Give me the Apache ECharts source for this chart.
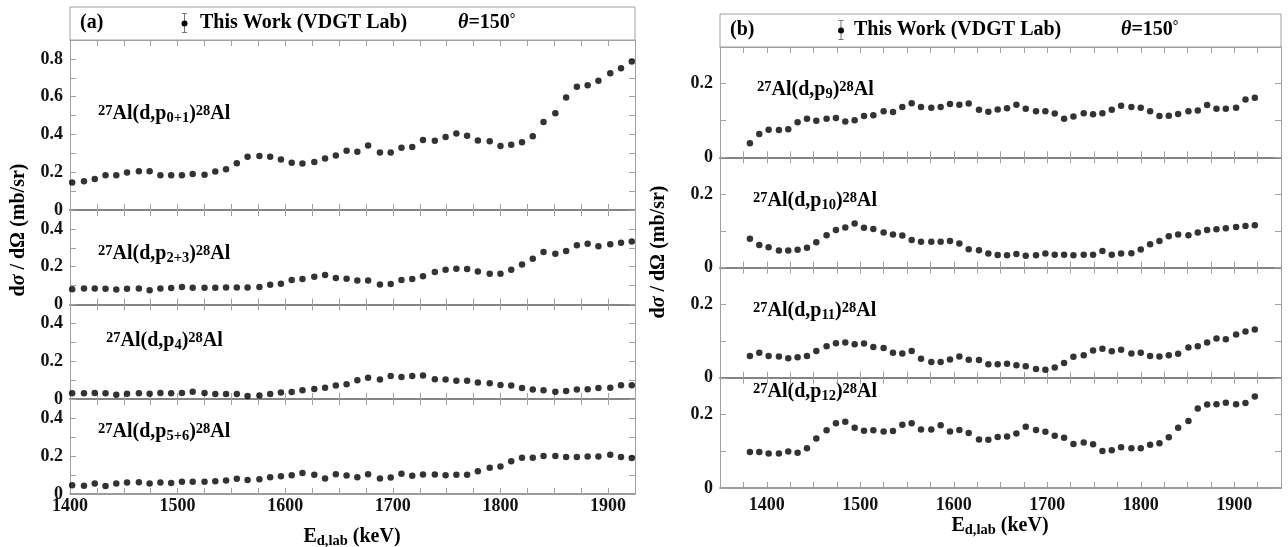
<!DOCTYPE html>
<html><head><meta charset="utf-8">
<script src="https://cdn.jsdelivr.net/npm/echarts@6/dist/echarts.min.js"></script>
<style>html,body{margin:0;padding:0;background:#fff}#c{width:1288px;height:547px}</style>
</head><body><div id="c"></div>
<script>
// ---- data ----
const energiesLeft = [1402,1413,1423,1433,1443,1453,1464,1474,1484,1494,1504,1514,1525,1535,1545,1555,1565,1576,1586,1596,1606,1616,1627,1637,1647,1657,1667,1677,1688,1698,1708,1718,1728,1739,1749,1759,1769,1779,1790,1800,1810,1820,1830,1840,1851,1861,1871,1881,1891,1902,1912,1922];
const energiesRight = [1382,1392,1402,1413,1423,1433,1443,1453,1464,1474,1484,1494,1504,1514,1525,1535,1545,1555,1565,1576,1586,1596,1606,1616,1627,1637,1647,1657,1667,1677,1688,1698,1708,1718,1728,1739,1749,1759,1769,1779,1790,1800,1810,1820,1830,1840,1851,1861,1871,1881,1891,1902,1912,1922];

const p0p1 = [0.145,0.152,0.164,0.184,0.184,0.198,0.205,0.205,0.184,0.184,0.184,0.191,0.186,0.204,0.216,0.248,0.282,0.286,0.282,0.268,0.250,0.246,0.254,0.273,0.289,0.314,0.309,0.341,0.304,0.304,0.330,0.334,0.371,0.366,0.387,0.405,0.393,0.368,0.364,0.339,0.345,0.359,0.391,0.466,0.512,0.595,0.652,0.660,0.684,0.724,0.751,0.786];
const p2p3 = [0.081,0.085,0.085,0.083,0.080,0.083,0.085,0.076,0.085,0.087,0.092,0.088,0.088,0.088,0.090,0.090,0.090,0.092,0.104,0.110,0.129,0.135,0.147,0.156,0.140,0.136,0.127,0.127,0.106,0.108,0.129,0.135,0.149,0.172,0.184,0.189,0.188,0.175,0.163,0.163,0.184,0.212,0.242,0.278,0.269,0.283,0.313,0.322,0.308,0.319,0.327,0.333];
const p4 = [0.030,0.030,0.032,0.030,0.023,0.028,0.030,0.028,0.032,0.030,0.032,0.039,0.032,0.027,0.027,0.027,0.016,0.019,0.027,0.034,0.037,0.046,0.053,0.060,0.071,0.078,0.099,0.112,0.103,0.122,0.117,0.122,0.124,0.104,0.103,0.096,0.096,0.087,0.083,0.074,0.071,0.058,0.050,0.046,0.039,0.042,0.050,0.051,0.058,0.060,0.073,0.073];
const p5p6 = [0.046,0.044,0.055,0.042,0.055,0.060,0.062,0.055,0.060,0.058,0.064,0.065,0.064,0.067,0.071,0.080,0.074,0.078,0.088,0.094,0.099,0.110,0.101,0.081,0.104,0.097,0.088,0.104,0.081,0.087,0.106,0.096,0.103,0.103,0.099,0.101,0.101,0.120,0.138,0.145,0.172,0.191,0.191,0.200,0.200,0.195,0.195,0.198,0.198,0.207,0.195,0.189];
const p9 = [0.038,0.063,0.075,0.074,0.076,0.095,0.105,0.099,0.105,0.107,0.097,0.101,0.112,0.114,0.125,0.123,0.137,0.147,0.137,0.135,0.137,0.145,0.143,0.146,0.129,0.124,0.130,0.133,0.143,0.132,0.125,0.125,0.119,0.105,0.111,0.120,0.117,0.120,0.129,0.140,0.137,0.135,0.125,0.112,0.113,0.118,0.125,0.127,0.142,0.132,0.132,0.135,0.157,0.162];
const p10 = [0.078,0.061,0.055,0.046,0.046,0.048,0.054,0.069,0.088,0.102,0.109,0.120,0.108,0.105,0.095,0.090,0.087,0.075,0.070,0.070,0.070,0.072,0.065,0.050,0.047,0.038,0.034,0.033,0.037,0.032,0.033,0.038,0.035,0.035,0.033,0.035,0.035,0.045,0.035,0.038,0.039,0.049,0.063,0.072,0.085,0.090,0.088,0.095,0.102,0.104,0.107,0.110,0.113,0.115];
const p11 = [0.059,0.068,0.059,0.058,0.053,0.056,0.059,0.073,0.086,0.094,0.096,0.091,0.093,0.084,0.081,0.068,0.066,0.073,0.052,0.043,0.043,0.050,0.058,0.049,0.048,0.037,0.037,0.038,0.034,0.031,0.024,0.022,0.028,0.040,0.057,0.061,0.074,0.079,0.072,0.076,0.066,0.068,0.059,0.058,0.061,0.065,0.082,0.086,0.096,0.107,0.105,0.118,0.126,0.131];
const p12 = [0.098,0.098,0.094,0.094,0.099,0.096,0.108,0.135,0.157,0.176,0.180,0.164,0.156,0.157,0.154,0.155,0.172,0.176,0.159,0.159,0.171,0.154,0.158,0.150,0.132,0.131,0.139,0.140,0.148,0.167,0.158,0.153,0.142,0.137,0.120,0.124,0.119,0.101,0.103,0.111,0.108,0.108,0.118,0.122,0.138,0.164,0.182,0.216,0.227,0.228,0.232,0.228,0.231,0.249];

const xTickLabels = [1400,1500,1600,1700,1800,1900];
const yTickLabels = [0,0.2,0.4,0.6,0.8];
const panelLabels = ['0+1','2+3','4','5+6','9','10','11','12'];

// ---- layout / style ----
const FONT = '"Liberation Serif","DejaVu Serif",serif';
const FRAME = '#a0a0a0';
const ZERO = '#7c7c7c';
const L = {left:70, width:565, xmin:1400, xmax:1925};
const R = {left:720, width:561, xmin:1350, xmax:1950};

const panels = [
  {s:L, top:40,    h:170,   ymax:0.9, E:energiesLeft,  v:p0p1, lx:98,  ly:104, bottom:false},
  {s:L, top:210,   h:94.5,  ymax:0.5, E:energiesLeft,  v:p2p3, lx:98,  ly:244, bottom:false},
  {s:L, top:304.5, h:94.5,  ymax:0.5, E:energiesLeft,  v:p4,   lx:106, ly:331, bottom:false},
  {s:L, top:399,   h:95,    ymax:0.5, E:energiesLeft,  v:p5p6, lx:98,  ly:422, bottom:true, lm:3},
  {s:R, top:47,    h:110.25,ymax:0.3, E:energiesRight, v:p9,   lx:757, ly:80,  bottom:false},
  {s:R, top:157.25,h:110.25,ymax:0.3, E:energiesRight, v:p10,  lx:753, ly:191, bottom:false},
  {s:R, top:267.5, h:110.25,ymax:0.3, E:energiesRight, v:p11,  lx:753, ly:301, bottom:false},
  {s:R, top:377.75,h:110.25,ymax:0.3, E:energiesRight, v:p12,  lx:753, ly:382, bottom:true, lm:8}
];

const grid=[], xAxis=[], yAxis=[], series=[];
const tickStyle = {show:true, inside:true, length:6, lineStyle:{color:FRAME, width:1}};
const labelFont = {fontFamily:FONT, fontWeight:'bold', fontSize:18, color:'#111'};
function yFmt(v){
  const t = yTickLabels.find(t => Math.abs(t - v) < 1e-6);
  if (t === undefined) return '';
  return t === 0 ? '0' : t.toFixed(1);
}
panels.forEach((p,i)=>{
  grid.push({left:p.s.left, width:p.s.width, top:p.top, height:p.h, show:false});
  xAxis.push({type:'value', gridIndex:i, position:'bottom', min:p.s.xmin, max:p.s.xmax, interval:25,
    axisLine:{show:true, onZero:false, lineStyle:{color:ZERO, width:1.6}},
    axisTick:tickStyle, splitLine:{show:false},
    axisLabel:{show:p.bottom, interval:0, margin:p.lm||3, ...labelFont,
      formatter:v => xTickLabels.includes(v) ? String(v) : ''}});
  xAxis.push({type:'value', gridIndex:i, position:'top', min:p.s.xmin, max:p.s.xmax, interval:25,
    axisLine:{show:true, onZero:false, lineStyle:{color:i===0||i===4?FRAME:ZERO, width:i===0||i===4?1:1.6}},
    axisTick:tickStyle, splitLine:{show:false}, axisLabel:{show:false}});
  yAxis.push({type:'value', gridIndex:i, position:'left', min:0, max:p.ymax, interval:0.1,
    axisLine:{show:true, onZero:false, lineStyle:{color:FRAME, width:1}},
    axisTick:tickStyle, splitLine:{show:false},
    axisLabel:{show:true, interval:0, margin:7, ...labelFont, formatter:yFmt}});
  yAxis.push({type:'value', gridIndex:i, position:'right', min:0, max:p.ymax, interval:0.1,
    axisLine:{show:true, onZero:false, lineStyle:{color:FRAME, width:1}},
    axisTick:tickStyle, splitLine:{show:false}, axisLabel:{show:false}});
  series.push({type:'scatter', xAxisIndex:2*i, yAxisIndex:2*i, symbol:'circle', symbolSize:6.5,
    itemStyle:{color:'#000'}, silent:true,
    data:p.E.map((e,k)=>[e,p.v[k]])});
});

const rich = {
  b:{fontFamily:FONT, fontWeight:'bold', fontSize:20, lineHeight:22, verticalAlign:'top', fill:'#000'},
  i:{fontFamily:FONT, fontWeight:'bold', fontStyle:'italic', fontSize:20, lineHeight:22, verticalAlign:'top', fill:'#000'},
  sup:{fontFamily:FONT, fontWeight:'bold', fontSize:14.5, lineHeight:14, verticalAlign:'top', fill:'#000'},
  sub:{fontFamily:FONT, fontWeight:'bold', fontSize:14.5, lineHeight:14, verticalAlign:'bottom', padding:[16,0,0,0], fill:'#000'},
  deg:{fontFamily:FONT, fontWeight:'bold', fontSize:14, lineHeight:10, verticalAlign:'top', fill:'#000'}
};
const graphic = [];
panels.forEach((p,i)=>{
  graphic.push({type:'text', x:p.lx, y:p.ly, silent:true, style:{
    text:'{sup|27}{b|Al(d,p}{sub|'+panelLabels[i]+'}{b|)}{sup|28}{b|Al}', rich, align:'left', verticalAlign:'top'}});
});
// header boxes
function header(x0,y0,x1,y1,tag,mx,tx,thx){
  const cy=(y0+y1)/2;
  graphic.push({type:'rect', silent:true, shape:{x:x0,y:y0,width:x1-x0,height:y1-y0},
    style:{fill:'none', stroke:FRAME, lineWidth:1}});
  graphic.push({type:'text', x:x0+10, y:cy, silent:true, style:{text:'{b|'+tag+'}', rich, align:'left', verticalAlign:'middle'}});
  graphic.push({type:'line', silent:true, shape:{x1:mx,y1:cy-10,x2:mx,y2:cy+9}, style:{stroke:'#777', lineWidth:1}});
  graphic.push({type:'line', silent:true, shape:{x1:mx-2.5,y1:cy-10,x2:mx+2.5,y2:cy-10}, style:{stroke:'#777', lineWidth:1}});
  graphic.push({type:'line', silent:true, shape:{x1:mx-2.5,y1:cy+9,x2:mx+2.5,y2:cy+9}, style:{stroke:'#777', lineWidth:1}});
  graphic.push({type:'circle', silent:true, shape:{cx:mx,cy:cy,r:3}, style:{fill:'#000'}});
  graphic.push({type:'text', x:tx, y:cy, silent:true, style:{text:'{b|This Work (VDGT Lab)}', rich, align:'left', verticalAlign:'middle'}});
  graphic.push({type:'text', x:thx, y:cy, silent:true, style:{text:'{i|θ}{b|=150}{deg|°}', rich, align:'left', verticalAlign:'middle'}});
}
header(70,7,635,40,'(a)',184.5,200,458);
header(720,14,1281,47,'(b)',841,854,1121);

// axis titles
const yTitle = '{b|d}{i|σ}{b| / dΩ (mb/sr)}';
graphic.push({type:'text', x:20, y:230, rotation:Math.PI/2, silent:true, style:{text:yTitle, rich, align:'center', verticalAlign:'middle'}});
graphic.push({type:'text', x:660, y:252, rotation:Math.PI/2, silent:true, style:{text:yTitle, rich, align:'center', verticalAlign:'middle'}});
const xTitle = '{b|E}{sub|d,lab}{b| (keV)}';
graphic.push({type:'text', x:352, y:527, silent:true, style:{text:xTitle, rich, align:'center', verticalAlign:'top'}});
graphic.push({type:'text', x:1000, y:516, silent:true, style:{text:xTitle, rich, align:'center', verticalAlign:'top'}});

const chart = echarts.init(document.getElementById('c'), null, {renderer:'canvas'});
chart.setOption({backgroundColor:'#fff', animation:false, grid, xAxis, yAxis, series, graphic});
</script></body></html>
